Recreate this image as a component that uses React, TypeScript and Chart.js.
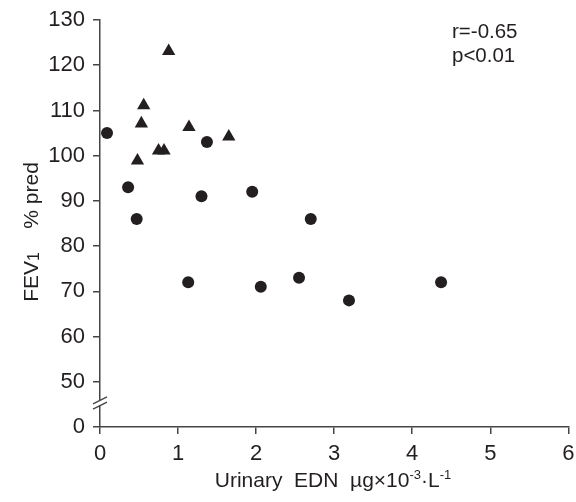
import React, { useEffect, useRef } from "react";
import { Chart, registerables } from "chart.js";

Chart.register(...registerables);

const circleX = [0.09, 0.36, 0.47, 1.13, 1.3, 1.37, 1.95, 2.06, 2.55, 2.7, 3.19, 4.37];
const circleY = [105, 93, 86, 72, 91, 103, 92, 71, 73, 86, 68, 72];
const triX = [0.48, 0.53, 0.56, 0.75, 0.82, 0.88, 1.14, 1.65];
const triY = [98.9, 107.1, 111.1, 101.1, 101.1, 123.1, 106.3, 104.2];
const yTickValues = [40, 50, 60, 70, 80, 90, 100, 110, 120, 130];
const yTickLabels = ["0", "50", "60", "70", "80", "90", "100", "110", "120", "130"];
const annotationLines = ["r=-0.65", "p<0.01"];

const FONT = "'Liberation Sans', Arial, Helvetica, sans-serif";
const INK = "#231f20";
const AXIS = "#454545";

const overlayPlugin = {
  id: "overlay",
  afterDraw(chart: any) {
    const ctx = chart.ctx as CanvasRenderingContext2D;
    const area = chart.chartArea;
    const ys = chart.scales.y;
    ctx.save();
    ctx.fillStyle = INK;
    ctx.textBaseline = "alphabetic";

    // axis break
    const yb = ys.getPixelForValue(45.3);
    const x0 = area.left;
    ctx.fillStyle = "#ffffff";
    ctx.fillRect(x0 - 2, yb - 2.5, 4, 5);
    ctx.strokeStyle = AXIS;
    ctx.lineWidth = 1.3;
    for (const d of [-2.6, 2.6]) {
      ctx.beginPath();
      ctx.moveTo(x0 - 7, yb + 3.5 + d);
      ctx.lineTo(x0 + 7, yb - 3.5 + d);
      ctx.stroke();
    }

    // annotation
    ctx.fillStyle = INK;
    ctx.font = `20.5px ${FONT}`;
    ctx.textAlign = "left";
    ctx.fillText(annotationLines[0], 452, 38);
    ctx.fillText(annotationLines[1], 452, 62);

    // x title
    const big = `21px ${FONT}`;
    const small = `13px ${FONT}`;
    const parts: [string, string, number][] = [
      ["Urinary  EDN  µg×10", big, 0],
      ["-3", small, -8],
      ["·L", big, 0],
      ["-1", small, -8],
    ];
    let total = 0;
    for (const [t, f] of parts) {
      ctx.font = f;
      total += ctx.measureText(t).width;
    }
    let x = 333 - total / 2;
    const baseY = 487;
    for (const [t, f, dy] of parts) {
      ctx.font = f;
      ctx.fillText(t, x, baseY + dy);
      x += ctx.measureText(t).width;
    }

    // y title
    const yparts: [string, string, number][] = [
      ["FEV", big, 0],
      ["1", `16px ${FONT}`, 1],
      ["    % pred", big, 0],
    ];
    let ytotal = 0;
    for (const [t, f] of yparts) {
      ctx.font = f;
      ytotal += ctx.measureText(t).width;
    }
    ctx.translate(38, 232 + ytotal / 2);
    ctx.rotate(-Math.PI / 2);
    let px = 0;
    for (const [t, f, dy] of yparts) {
      ctx.font = f;
      ctx.fillText(t, px, dy);
      px += ctx.measureText(t).width;
    }
    ctx.restore();
  },
};

export default function App() {
  const ref = useRef<HTMLCanvasElement | null>(null);
  useEffect(() => {
    document.body.style.margin = "0";
    const canvas = ref.current;
    if (!canvas) return;
    const chart = new Chart(canvas, {
      type: "scatter",
      data: {
        datasets: [
          {
            label: "circles",
            data: circleX.map((v, i) => ({ x: v, y: circleY[i] })),
            pointStyle: "circle",
            pointRadius: 6,
            pointBackgroundColor: INK,
            pointBorderWidth: 0,
            borderColor: INK,
          },
          {
            label: "triangles",
            data: triX.map((v, i) => ({ x: v, y: triY[i] })),
            pointStyle: "triangle",
            pointRadius: 7.7,
            pointBackgroundColor: INK,
            pointBorderWidth: 0,
            borderColor: INK,
          },
        ],
      },
      options: {
        animation: false,
        responsive: false,
        layout: { padding: { left: 0, right: 7, top: 20, bottom: 0 } },
        plugins: { legend: { display: false }, tooltip: { enabled: false } },
        scales: {
          x: {
            type: "linear",
            min: 0,
            max: 6,
            afterFit(scale: any) {
              scale.height = 75;
              scale.paddingRight = 0;
              scale.paddingLeft = 0;
            },
            ticks: {
              stepSize: 1,
              color: INK,
              font: { family: FONT, size: 22 },
              padding: 7,
            },
            grid: { drawOnChartArea: false, tickLength: 7, color: AXIS, lineWidth: 1.5 },
            border: { display: true, color: AXIS, width: 1.5 },
          },
          y: {
            type: "linear",
            min: 40,
            max: 130,
            afterFit(scale: any) {
              scale.width = 100;
              scale.paddingTop = 0;
              scale.paddingBottom = 0;
            },
            afterBuildTicks(scale: any) {
              scale.ticks = yTickValues.map((v) => ({ value: v }));
            },
            ticks: {
              color: INK,
              font: { family: FONT, size: 22 },
              padding: 8,
              callback: (v: any) => {
                const i = yTickValues.indexOf(Number(v));
                return i >= 0 ? yTickLabels[i] : "";
              },
            },
            grid: { drawOnChartArea: false, tickLength: 7, color: AXIS, lineWidth: 1.5 },
            border: { display: true, color: AXIS, width: 1.5 },
          },
        },
      },
      plugins: [overlayPlugin],
    });
    return () => chart.destroy();
  }, []);
  return <canvas ref={ref} width={576} height={502} style={{ display: "block" }} />;
}
